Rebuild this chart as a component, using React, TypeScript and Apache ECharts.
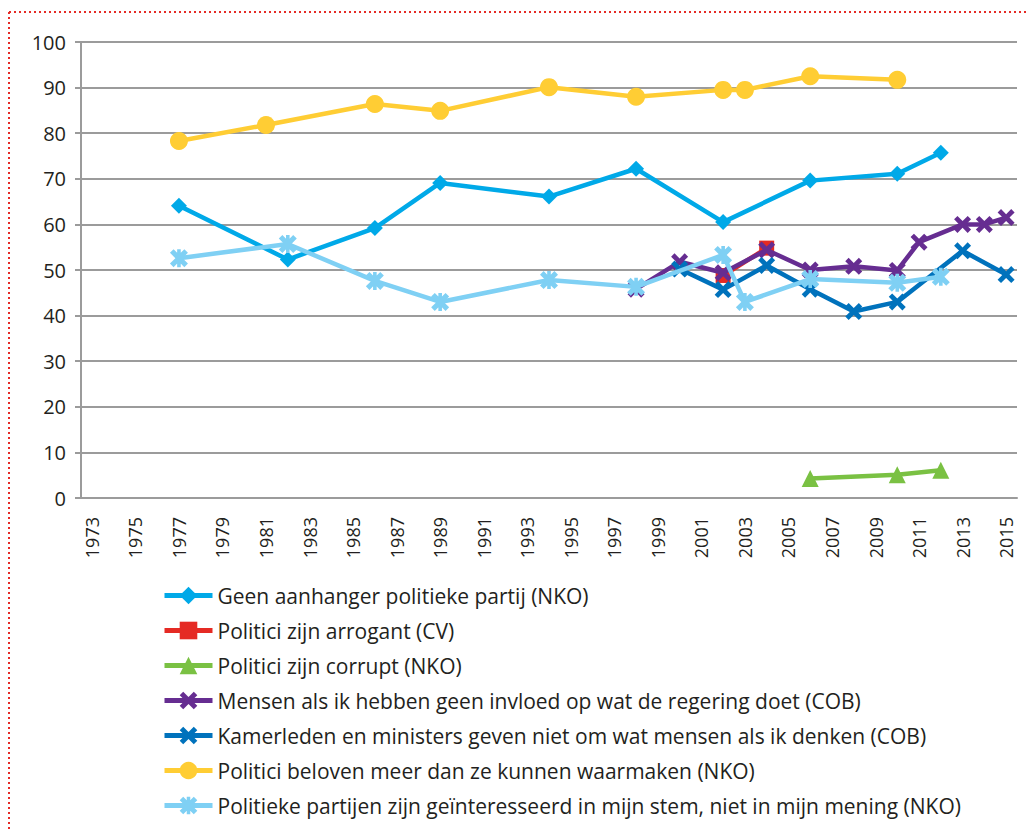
import React, { useEffect, useRef } from "react";
import * as echarts from "echarts";

const years: string[] = [
  "1973","1974","1975","1976","1977","1978","1979","1980","1981","1982",
  "1983","1984","1985","1986","1987","1988","1989","1990","1991","1992",
  "1993","1994","1995","1996","1997","1998","1999","2000","2001","2002",
  "2003","2004","2005","2006","2007","2008","2009","2010","2011","2012",
  "2013","2014","2015",
];
const yTicks = [0, 10, 20, 30, 40, 50, 60, 70, 80, 90, 100];

const geenYears = ["1977","1982","1986","1989","1994","1998","2002","2006","2010","2012"];
const geenValues = [64.1, 52.3, 59.2, 69.1, 66.1, 72.2, 60.5, 69.6, 71.1, 75.7];

const arrogantYears = ["2002","2004"];
const arrogantValues = [48.8, 54.8];

const corruptYears = ["2006","2010","2012"];
const corruptValues = [4.3, 5.1, 6.1];

const mensenYears = ["1998","2000","2002","2004","2006","2008","2010","2011","2013","2014","2015"];
const mensenValues = [45.8, 51.8, 49.4, 54.4, 50.0, 50.8, 49.9, 56.1, 60.0, 60.0, 61.5];

const kamerYears = ["2000","2002","2004","2006","2008","2010","2013","2015"];
const kamerValues = [50.2, 45.7, 51.0, 45.8, 40.9, 43.0, 54.2, 49.0];

const belovenYears = ["1977","1981","1986","1989","1994","1998","2002","2003","2006","2010"];
const belovenValues = [78.3, 81.8, 86.4, 84.9, 90.1, 88.0, 89.5, 89.5, 92.5, 91.7];

const partijenYears = ["1977","1982","1986","1989","1994","1998","2002","2003","2006","2010","2012"];
const partijenValues = [52.6, 55.7, 47.6, 43.0, 47.8, 46.3, 53.3, 43.0, 48.0, 47.2, 48.5];

const seriesNames = [
  "Geen aanhanger politieke partij (NKO)",
  "Politici zijn arrogant (CV)",
  "Politici zijn corrupt (NKO)",
  "Mensen als ik hebben geen invloed op wat de regering doet (COB)",
  "Kamerleden en ministers geven niet om wat mensen als ik denken (COB)",
  "Politici beloven meer dan ze kunnen waarmaken (NKO)",
  "Politieke partijen zijn geïnteresseerd in mijn stem, niet in mijn mening (NKO)",
];
const seriesColors = ["#00A9E8", "#E52A24", "#7AC143", "#662D91", "#0072BC", "#FFCD34", "#7FD0F4"];

const X_PATH =
  "path://M0,2 L2,0 L5,3 L8,0 L10,2 L7,5 L10,8 L8,10 L5,7 L2,10 L0,8 L3,5 Z";
const STAR_PATH =
  "path://M0,2 L2,0 L5,3 L8,0 L10,2 L7,5 L10,8 L8,10 L5,7 L2,10 L0,8 L3,5 Z M4,0 L6,0 L6,10 L4,10 Z";

function pairs(ys: string[], vs: number[]) {
  return ys.map((y, i) => [y, vs[i]]);
}

export default function App() {
  const ref = useRef<HTMLDivElement>(null);
  useEffect(() => {
    if (!ref.current) return;
    const chart = echarts.init(ref.current, undefined, { renderer: "svg" });
    const font = "'Open Sans', 'Noto Sans', sans-serif";
    const mk = (
      idx: number,
      ys: string[],
      vs: number[],
      symbol: string,
      symbolSize: number,
      lineWidth: number
    ) => ({
      name: seriesNames[idx],
      type: "line",
      data: pairs(ys, vs),
      symbol,
      symbolSize,
      showAllSymbol: true,
      connectNulls: true,
      z: 2 + idx,
      lineStyle: { color: seriesColors[idx], width: lineWidth },
      itemStyle: { color: seriesColors[idx] },
      emphasis: { disabled: true },
    });
    chart.setOption({
      animation: false,
      textStyle: { fontFamily: font },
      graphic: [
        {
          type: "line",
          shape: { x1: 9, y1: 12, x2: 1027, y2: 12 },
          style: { stroke: "#E52A24", lineWidth: 2, lineDash: [2, 3] },
        },
        {
          type: "line",
          shape: { x1: 9, y1: 12, x2: 9, y2: 829 },
          style: { stroke: "#E52A24", lineWidth: 2, lineDash: [2, 3] },
        },
      ],
      grid: { left: 81, top: 42, right: 10, bottom: 331, containLabel: false },
      xAxis: {
        type: "category",
        data: years,
        boundaryGap: true,
        axisLine: { lineStyle: { color: "#9B9B9B", width: 2 } },
        axisTick: { interval: 0, length: 7, lineStyle: { color: "#9B9B9B", width: 2 } },
        axisLabel: {
          interval: 1,
          rotate: 90,
          fontSize: 18,
          color: "#231F20",
          margin: 19,
          fontFamily: font,
        },
        splitLine: { show: false },
      },
      yAxis: {
        type: "value",
        min: yTicks[0],
        max: yTicks[yTicks.length - 1],
        interval: 10,
        axisLine: { show: true, lineStyle: { color: "#9B9B9B", width: 2 } },
        axisTick: { show: true, length: 6, lineStyle: { color: "#9B9B9B", width: 2 } },
        axisLabel: { fontSize: 20, color: "#231F20", margin: 15, fontFamily: font },
        splitLine: { lineStyle: { color: "#9B9B9B", width: 2 } },
      },
      legend: {
        orient: "vertical",
        left: 157,
        top: 580,
        itemGap: 14,
        itemWidth: 48,
        itemHeight: 22,
        lineStyle: { width: 5 },
        textStyle: { fontSize: 21, color: "#231F20", fontFamily: font, padding: [0, 0, 0, 0] },
        data: seriesNames,
      },
      series: [
        mk(0, geenYears, geenValues, "diamond", 16, 4.5),
        mk(1, arrogantYears, arrogantValues, "rect", 15, 4.5),
        mk(2, corruptYears, corruptValues, "triangle", 17, 4.5),
        mk(3, mensenYears, mensenValues, X_PATH, 17, 4.5),
        mk(4, kamerYears, kamerValues, X_PATH, 17, 4.5),
        mk(5, belovenYears, belovenValues, "circle", 18, 4.5),
        mk(6, partijenYears, partijenValues, STAR_PATH, 18, 4.5),
      ],
    });
    return () => chart.dispose();
  }, []);
  return <div ref={ref} style={{ width: 1027, height: 829, position: "absolute", left: 0, top: 0 }} />;
}
